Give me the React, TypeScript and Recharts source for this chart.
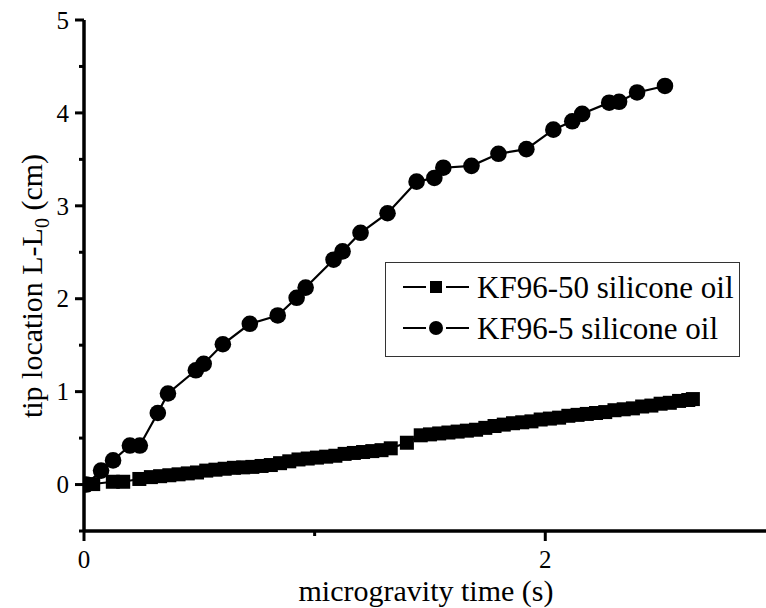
import { LineChart, Line, XAxis, YAxis } from 'recharts';

const FONT = '"Liberation Serif", "Times New Roman", serif';

// KF96-50 silicone oil (squares)
const kf50Time = [
  0, 0.04, 0.125, 0.17, 0.24, 0.29, 0.33, 0.37, 0.41, 0.45, 0.49, 0.53, 0.57, 0.61, 0.65,
  0.69, 0.73, 0.77, 0.81, 0.85, 0.89, 0.93, 0.97, 1.01, 1.05, 1.09, 1.13, 1.17, 1.21, 1.25,
  1.29, 1.33, 1.4, 1.46, 1.5, 1.54, 1.58, 1.62, 1.66, 1.7, 1.74, 1.78, 1.82, 1.86, 1.9,
  1.94, 1.98, 2.02, 2.06, 2.1, 2.14, 2.18, 2.22, 2.26, 2.3, 2.34, 2.38, 2.42, 2.46, 2.5,
  2.54, 2.58, 2.62, 2.64,
];
const kf50Tip = [
  0, 0.005, 0.03, 0.03, 0.06, 0.08, 0.09, 0.1, 0.11, 0.12, 0.13, 0.15, 0.16, 0.17, 0.18,
  0.185, 0.19, 0.2, 0.21, 0.23, 0.25, 0.27, 0.28, 0.29, 0.3, 0.31, 0.33, 0.34, 0.35, 0.36,
  0.37, 0.39, 0.45, 0.53, 0.54, 0.55, 0.56, 0.57, 0.58, 0.59, 0.61, 0.63, 0.645, 0.66, 0.67,
  0.68, 0.7, 0.71, 0.72, 0.74, 0.75, 0.76, 0.77, 0.78, 0.8, 0.81, 0.82, 0.84, 0.85, 0.87,
  0.88, 0.9, 0.91, 0.92,
];

// KF96-5 silicone oil (circles)
const kf5Time = [
  0.01, 0.074, 0.126, 0.199, 0.242, 0.32, 0.364, 0.485, 0.519, 0.602, 0.719, 0.84, 0.922,
  0.961, 1.082, 1.121, 1.199, 1.316, 1.442, 1.519, 1.558, 1.68, 1.797, 1.918, 2.035, 2.117,
  2.16, 2.277, 2.32, 2.398, 2.519,
];
const kf5Tip = [
  0, 0.15, 0.26, 0.42, 0.42, 0.77, 0.98, 1.23, 1.3, 1.51, 1.73, 1.82, 2.01, 2.12, 2.42,
  2.51, 2.71, 2.92, 3.26, 3.3, 3.41, 3.43, 3.56, 3.61, 3.82, 3.91, 3.99, 4.11, 4.12, 4.22,
  4.29,
];

const xTicks = [0, 1, 2];
const xLabelled = [0, 2];
const yTicks = [-0.5, 0, 0.5, 1, 1.5, 2, 2.5, 3, 3.5, 4, 4.5, 5];

const series = [
  { name: 'KF96-50 silicone oil', marker: 'square', data: kf50Time.map((x, i) => ({ x, y: kf50Tip[i] })) },
  { name: 'KF96-5 silicone oil', marker: 'circle', data: kf5Time.map((x, i) => ({ x, y: kf5Tip[i] })) },
];

function SquareDot(props: any) {
  const { cx, cy, index } = props;
  if (cx == null || cy == null) return <g key={`s${index}`} />;
  return <rect key={`s${index}`} x={cx - 7} y={cy - 7} width={14} height={14} fill="#000" />;
}

function CircleDot(props: any) {
  const { cx, cy, index } = props;
  if (cx == null || cy == null) return <g key={`c${index}`} />;
  return <circle key={`c${index}`} cx={cx} cy={cy} r={8.3} fill="#000" />;
}

function YTick(props: any) {
  const { x, y, payload } = props;
  const v = payload.value as number;
  const major = Number.isInteger(v);
  return (
    <g>
      <line x1={x - (major ? 9 : 5)} x2={x} y1={y} y2={y} stroke="#000" strokeWidth={3} />
      {major && (
        <text x={x - 15} y={y} dy="0.35em" textAnchor="end" fontSize={25} fontFamily={FONT} fill="#000">
          {v}
        </text>
      )}
    </g>
  );
}

function XTick(props: any) {
  const { x, y, payload } = props;
  const v = payload.value as number;
  const major = xLabelled.includes(v);
  return (
    <g>
      <line x1={x} x2={x} y1={y} y2={y + (major ? 10 : 5)} stroke="#000" strokeWidth={3} />
      {major && (
        <text x={x} y={y + 37} textAnchor="middle" fontSize={25} fontFamily={FONT} fill="#000">
          {v}
        </text>
      )}
    </g>
  );
}

function YTitle() {
  return (
    <text
      transform="translate(42,286) rotate(-90)"
      textAnchor="middle"
      fontSize={30}
      fontFamily={FONT}
      fill="#000"
    >
      tip location L-L
      <tspan fontSize={20} dy={7}>0</tspan>
      <tspan dy={-7}> (cm)</tspan>
    </text>
  );
}

function XTitle() {
  return (
    <text x={426} y={601} textAnchor="middle" fontSize={30} fontFamily={FONT} fill="#000">
      microgravity time (s)
    </text>
  );
}

function LegendBox() {
  return (
    <div
      style={{
        position: 'absolute',
        left: 385,
        top: 262,
        width: 355,
        height: 95,
        boxSizing: 'border-box',
        border: '1.5px solid #333',
        background: '#fff',
        fontFamily: FONT,
      }}
    >
      {series.map((s, i) => {
        const cy = i === 0 ? 24 : 65;
        return (
          <div key={s.name}>
            <svg width={70} height={20} style={{ position: 'absolute', left: 16, top: cy - 10 }}>
              <line x1={1} x2={24} y1={10} y2={10} stroke="#000" strokeWidth={2} />
              <line x1={44} x2={67} y1={10} y2={10} stroke="#000" strokeWidth={2} />
              {s.marker === 'square' ? (
                <rect x={28} y={4} width={12} height={12} fill="#000" />
              ) : (
                <circle cx={34} cy={10} r={7} fill="#000" />
              )}
            </svg>
            <div
              style={{
                position: 'absolute',
                left: 91,
                top: cy - 15,
                fontSize: 31,
                lineHeight: '31px',
                whiteSpace: 'nowrap',
                color: '#000',
                fontFamily: FONT,
              }}
            >
              {s.name}
            </div>
          </div>
        );
      })}
    </div>
  );
}

export default function App() {
  return (
    <div style={{ position: 'absolute', left: 0, top: 0, width: 766, height: 608, background: '#fff' }}>
      <LineChart width={766} height={608} margin={{ top: 20, right: 0, bottom: 0, left: 0 }}>
        <XAxis
          type="number"
          dataKey="x"
          domain={[0, 2.957]}
          allowDataOverflow
          ticks={xTicks}
          tick={<XTick />}
          tickLine={false}
          tickSize={0}
          tickMargin={0}
          height={77}
          axisLine={{ stroke: '#000', strokeWidth: 3.5 }}
          label={<XTitle />}
        />
        <YAxis
          type="number"
          dataKey="y"
          domain={[-0.5, 5]}
          allowDataOverflow
          ticks={yTicks}
          interval={0}
          tick={<YTick />}
          tickLine={false}
          tickSize={0}
          tickMargin={0}
          width={84}
          axisLine={{ stroke: '#000', strokeWidth: 3.5 }}
          label={<YTitle />}
        />
        <Line
          data={series[0].data}
          dataKey="y"
          name={series[0].name}
          type="linear"
          stroke="#000"
          strokeWidth={2}
          dot={SquareDot}
          activeDot={false}
          isAnimationActive={false}
        />
        <Line
          data={series[1].data}
          dataKey="y"
          name={series[1].name}
          type="linear"
          stroke="#000"
          strokeWidth={2.2}
          dot={CircleDot}
          activeDot={false}
          isAnimationActive={false}
        />
      </LineChart>
      <LegendBox />
    </div>
  );
}
